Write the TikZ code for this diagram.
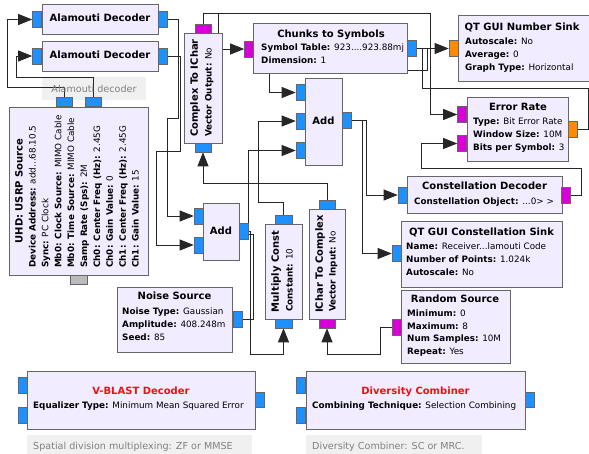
\documentclass[tikz,border=0pt]{standalone}
\usepackage{fontspec}
\setmainfont{DejaVu Sans}
\usepackage{xcolor}
\usepackage{tikz}
\usetikzlibrary{arrows.meta}

\definecolor{blockfill}{HTML}{F1ECFF}
\definecolor{edgegray}{HTML}{666666}
\definecolor{cplxblue}{HTML}{1E90FF}
\definecolor{bytemag}{HTML}{D800D8}
\definecolor{fltorange}{HTML}{FF8C00}
\definecolor{msggray}{HTML}{BBBBBB}
\definecolor{commentbg}{HTML}{F0F0F0}
\definecolor{commenttext}{HTML}{808080}
\definecolor{errred}{HTML}{EE1111}

\newcommand{\pv}[2]{\textbf{#1:} #2}
\newcommand{\ddd}{...}

\pgfdeclarelayer{back}
\pgfdeclarelayer{wires}
\pgfsetlayers{back,wires,main}

\begin{document}
\begin{tikzpicture}[x=1pt,y=-1pt,
    blk/.style={draw=edgegray, fill=blockfill, line width=0.8pt, inner sep=0pt},
    hprt/.style={draw=edgegray, line width=0.6pt, minimum width=9pt, minimum height=16pt, inner sep=0pt},
    vprt/.style={draw=edgegray, line width=0.6pt, minimum width=16pt, minimum height=9pt, inner sep=0pt},
    cplx/.style={fill=cplxblue},
    byte/.style={fill=bytemag},
    flt/.style={fill=fltorange},
    msg/.style={fill=msggray},
    ttl/.style={font=\fontsize{10}{12}\selectfont\bfseries, inner sep=0pt, text height=7.5pt, text depth=2pt},
    prm/.style={font=\fontsize{8.8}{11}\selectfont, inner sep=0pt, anchor=west, text height=7pt, text depth=2pt},
    cmt/.style={fill=commentbg, inner sep=0pt},
    cmttxt/.style={font=\fontsize{9.6}{11}\selectfont, text=commenttext, inner sep=0pt, anchor=west},
    wire/.style={draw=black!85, line width=0.8pt, -{Triangle[length=14pt,width=11pt]}}]
    \useasboundingbox (0,0) rectangle (589,453);

    % Alamouti decoders
    \node[blk, minimum width=116pt, minimum height=30pt] (alamA) at (100,19) {};
    \node[ttl] (alamA_t) at (alamA) {Alamouti Decoder};
    \node[hprt, cplx] (alamA_in) at (37,19.5) {};
    \node[hprt, cplx] (alamA_out) at (162.5,19.5) {};
    \node[blk, minimum width=116pt, minimum height=30pt] (alamB) at (100,56) {};
    \node[ttl] (alamB_t) at (alamB) {Alamouti Decoder};
    \node[hprt, cplx] (alamB_in) at (37,56) {};
    \node[hprt, cplx] (alamB_out) at (162.5,56) {};
    \begin{pgfonlayer}{back}
        \node[cmt, minimum width=104pt, minimum height=23pt] (cmtA) at (94,88.5) {};
    \end{pgfonlayer}
    \node[cmttxt, anchor=center] (cmtA_t) at (cmtA) {Alamouti decoder};

    % USRP source
    \node[blk, minimum width=139pt, minimum height=168pt] (usrp) at (78.5,191) {};
    \node[ttl, rotate=90] (usrp_t) at (20,191) {UHD: USRP Source};
    \foreach \k/\v [count=\i from 0] in {Device Address/add\ddd 68.10.5, Sync/PC Clock,
        Mb0: Clock Source/MIMO Cable, Mb0: Time Source/MIMO Cable, Samp Rate (Sps)/2M,
        Ch0: Center Freq (Hz)/2.45G, Ch0: Gain Value/0, Ch1: Center Freq (Hz)/2.45G,
        Ch1: Gain Value/15}
        \node[prm, rotate=90] (usrp_p\i) at ({33+12.9*\i},268) {\pv{\k}{\v}};
    \node[vprt, cplx] (usrp_o0) at (64,102) {};
    \node[vprt, cplx] (usrp_o1) at (93,102) {};
    \node[vprt, msg, minimum width=17pt] (usrp_cmd) at (78.5,279.5) {};

    % Complex To IChar
    \node[blk, minimum width=38pt, minimum height=110pt] (c2ic) at (203,88) {};
    \node[ttl, rotate=90] (c2ic_t) at (195,88) {Complex To IChar};
    \node[prm, rotate=90] (c2ic_p) at (209,137) {\pv{Vector Output}{No}};
    \node[vprt, byte] (c2ic_out) at (203,28.5) {};
    \node[vprt, cplx] (c2ic_in) at (203,147.5) {};

    % Chunks to Symbols
    \node[blk, minimum width=154pt, minimum height=50pt] (chunks) at (330,48) {};
    \node[ttl] (chunks_t) at (331,35) {Chunks to Symbols};
    \node[prm] (chunks_p0) at (261,48) {\pv{Symbol Table}{923....923.88mj}};
    \node[prm] (chunks_p1) at (261,61) {\pv{Dimension}{1}};
    \node[hprt, byte] (chunks_in) at (249,49) {};
    \node[hprt, cplx] (chunks_out) at (411.5,48.5) {};

    % Add (upper)
    \node[blk, minimum width=37pt, minimum height=87pt] (addU) at (323.5,121.5) {};
    \node[ttl] (addU_t) at (addU) {Add};
    \node[hprt, cplx] (addU_i0) at (300.5,92.5) {};
    \node[hprt, cplx] (addU_i1) at (300.5,121) {};
    \node[hprt, cplx] (addU_i2) at (300.5,150.5) {};
    \node[hprt, cplx] (addU_out) at (346.5,120.5) {};

    % QT GUI Number Sink
    \node[blk, minimum width=136pt, minimum height=66pt] (nsink) at (526,48) {};
    \node[ttl] (nsink_t) at (522,28) {QT GUI Number Sink};
    \node[prm] (nsink_p0) at (465,42) {\pv{Autoscale}{No}};
    \node[prm] (nsink_p1) at (465,55) {\pv{Average}{0}};
    \node[prm] (nsink_p2) at (465,68) {\pv{Graph Type}{Horizontal}};
    \node[hprt, flt] (nsink_in) at (453.5,48.5) {};

    % Error Rate
    \node[blk, minimum width=101pt, minimum height=64pt] (err) at (517.5,129) {};
    \node[ttl] (err_t) at (518,108) {Error Rate};
    \node[prm] (err_p0) at (473,122) {\pv{Type}{Bit Error Rate}};
    \node[prm] (err_p1) at (473,135) {\pv{Window Size}{10M}};
    \node[prm] (err_p2) at (473,148) {\pv{Bits per Symbol}{3}};
    \node[hprt, byte] (err_i0) at (462,114.5) {};
    \node[hprt, byte] (err_i1) at (462,143.5) {};
    \node[hprt, flt] (err_out) at (572.5,129.5) {};

    % Constellation Decoder
    \node[blk, minimum width=155pt, minimum height=37pt] (cdec) at (484.5,194.5) {};
    \node[ttl] (cdec_t) at (484.5,187) {Constellation Decoder};
    \node[prm] (cdec_p) at (414,202) {\pv{Constellation Object}{...0> >}};
    \node[hprt, cplx] (cdec_in) at (402.5,195) {};
    \node[hprt, byte] (cdec_out) at (566,195) {};

    % QT GUI Constellation Sink
    \node[blk, minimum width=161pt, minimum height=66pt] (csink) at (481.5,254) {};
    \node[ttl] (csink_t) at (481.5,233) {QT GUI Constellation Sink};
    \node[prm] (csink_p0) at (406,247) {\pv{Name}{Receiver...lamouti Code}};
    \node[prm] (csink_p1) at (406,260) {\pv{Number of Points}{1.024k}};
    \node[prm] (csink_p2) at (406,273) {\pv{Autoscale}{No}};
    \node[hprt, cplx] (csink_in) at (396.5,253.5) {};

    % Random Source
    \node[blk, minimum width=109pt, minimum height=73pt] (rand) at (455.5,326.5) {};
    \node[ttl] (rand_t) at (455,300) {Random Source};
    \node[prm] (rand_p0) at (407,314) {\pv{Minimum}{0}};
    \node[prm] (rand_p1) at (407,326.5) {\pv{Maximum}{8}};
    \node[prm] (rand_p2) at (407,339) {\pv{Num Samples}{10M}};
    \node[prm] (rand_p3) at (407,352) {\pv{Repeat}{Yes}};
    \node[hprt, byte] (rand_out) at (396.5,327) {};

    % Add (lower)
    \node[blk, minimum width=36pt, minimum height=57pt] (addL) at (221,231.5) {};
    \node[ttl] (addL_t) at (addL) {Add};
    \node[hprt, cplx] (addL_i0) at (198.5,216) {};
    \node[hprt, cplx] (addL_i1) at (198.5,245) {};
    \node[hprt, cplx] (addL_out) at (243.5,231) {};

    % Noise Source
    \node[blk, minimum width=115pt, minimum height=65pt] (noise) at (174.5,319.5) {};
    \node[ttl] (noise_t) at (174.5,297) {Noise Source};
    \node[prm] (noise_p0) at (122,312) {\pv{Noise Type}{Gaussian}};
    \node[prm] (noise_p1) at (122,325) {\pv{Amplitude}{408.248m}};
    \node[prm] (noise_p2) at (122,338) {\pv{Seed}{85}};
    \node[hprt, cplx] (noise_out) at (237.5,319.5) {};

    % Multiply Const
    \node[blk, minimum width=37pt, minimum height=95pt] (mulc) at (283.5,271.5) {};
    \node[ttl, rotate=90] (mulc_t) at (276,271.5) {Multiply Const};
    \node[prm, rotate=90] (mulc_p) at (290,312) {\pv{Constant}{10}};
    \node[vprt, cplx, minimum width=17pt] (mulc_out) at (283.5,219.5) {};
    \node[vprt, cplx, minimum width=17pt] (mulc_in) at (283.5,323.5) {};

    % IChar To Complex
    \node[blk, minimum width=36pt, minimum height=110pt] (ic2c) at (327,264) {};
    \node[ttl, rotate=90] (ic2c_t) at (320,264) {IChar To Complex};
    \node[prm, rotate=90] (ic2c_p) at (333,312) {\pv{Vector Input}{No}};
    \node[vprt, cplx] (ic2c_out) at (327,204.5) {};
    \node[vprt, byte] (ic2c_in) at (327,323.5) {};

    % V-BLAST Decoder
    \node[blk, minimum width=228pt, minimum height=58pt] (vblast) at (141,400) {};
    \node[ttl, text=errred] (vblast_t) at (141,392) {V-BLAST Decoder};
    \node[prm] (vblast_p) at (33,406) {\pv{Equalizer Type}{Minimum Mean Squared Error}};
    \node[hprt, cplx] (vblast_i0) at (22.5,385) {};
    \node[hprt, cplx] (vblast_i1) at (22.5,415) {};
    \node[hprt, cplx, minimum height=15pt] (vblast_out) at (259.5,399.5) {};
    \node[cmt, minimum width=225pt, minimum height=30pt] (cmtV) at (139.5,450) {};
    \node[cmttxt] (cmtV_t) at (33,447) {Spatial division multiplexing: ZF or MMSE};

    % Diversity Combiner
    \node[blk, minimum width=219pt, minimum height=58pt] (divc) at (415.5,400) {};
    \node[ttl, text=errred] (divc_t) at (415.5,392) {Diversity Combiner};
    \node[prm] (divc_p) at (312,406) {\pv{Combining Technique}{Selection Combining}};
    \node[hprt, cplx] (divc_i0) at (301,385) {};
    \node[hprt, cplx] (divc_i1) at (301,415) {};
    \node[hprt, cplx, minimum height=15pt] (divc_out) at (529.5,399.5) {};
    \node[cmt, minimum width=176pt, minimum height=30pt] (cmtD) at (394,450) {};
    \node[cmttxt] (cmtD_t) at (312,447) {Diversity Combiner: SC or MRC.};

    % Connections
    \begin{pgfonlayer}{wires}
        \draw[wire] (usrp_o0.north) -- ++(0,-10) -| ([xshift=-25pt]alamA_in.west) -- (alamA_in.west);
        \draw[wire] (usrp_o1.north) -- ++(0,-20) -| ([xshift=-16pt]alamB_in.west) -- (alamB_in.west);
        \draw[wire] (alamA_out.east) -| ++(11,99) -| ([xshift=-26pt]addL_i0.west) -- (addL_i0.west);
        \draw[wire] (alamB_out.east) -| ++(13,95) -| ([xshift=-37pt]addL_i1.west) -- (addL_i1.west);
        \draw[wire] (ic2c_out.north) -- ++(0,-16) -| (c2ic_in.south);
        \draw[wire] (rand_out.west) -| ++(-11,27) -| (ic2c_in.south);
        \draw[wire] (c2ic_out.north) |- ++(15,-10) |- (chunks_in.west);
        \draw[wire] (c2ic_out.north) -- ++(0,-10) -| ([xshift=-27pt]err_i0.west) -- (err_i0.west);
        \draw[wire] (chunks_out.east) -| ++(11,22) -| ([xshift=-26pt]addU_i0.west) -- (addU_i0.west);
        \draw[wire] (err_out.east) -| ++(11,-41) -| ([xshift=-26pt]nsink_in.west) -- (nsink_in.west);
        \draw[wire] (cdec_out.east) -| ++(11,-27) -| ([xshift=-36pt]err_i1.west) -- (err_i1.west);
        \draw[wire] (addU_out.east) -- ++(15,0) |- (cdec_in.west);
        \draw[wire] (addU_out.east) -- ++(11,0) |- (csink_in.west);
        \draw[wire] (mulc_out.north) -- ++(0,-12) -| ([xshift=-37pt]addU_i1.west) -- (addU_i1.west);
        \draw[wire] (addL_out.east) -| ++(2,123) -| (mulc_in.south);
        \draw[wire] (noise_out.east) -| ++(11,-85) -| ([xshift=-47pt]addU_i2.west) -- (addU_i2.west);
    \end{pgfonlayer}
\end{tikzpicture}
\end{document}
